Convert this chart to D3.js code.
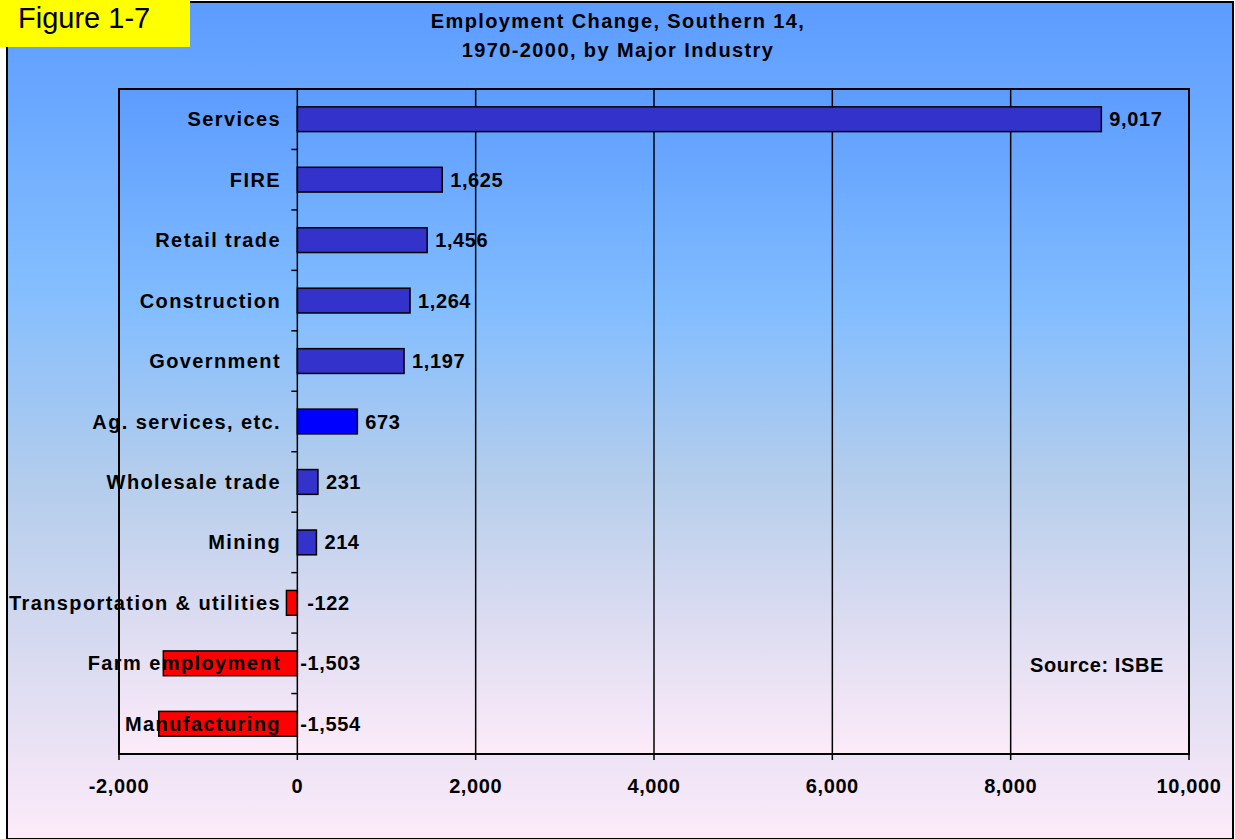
<!DOCTYPE html>
<html>
<head>
<meta charset="utf-8">
<script src="https://cdn.jsdelivr.net/npm/d3@7"></script>
<style>
  html, body { margin: 0; padding: 0; background: #ffffff; }
  svg { display: block; }
  text { font-family: "Liberation Sans", Arial, sans-serif; fill: #000; }
</style>
</head>
<body>
<svg id="chart" width="1235" height="839"></svg>
<script>
// Employment change 1970-2000 (thousands of jobs), by industry
const categories = [
  "Services", "FIRE", "Retail trade", "Construction", "Government",
  "Ag. services, etc.", "Wholesale trade", "Mining",
  "Transportation & utilities", "Farm employment", "Manufacturing"
];
const values = [9017, 1625, 1456, 1264, 1197, 673, 231, 214, -122, -1503, -1554];
const xTicks = [-2000, 0, 2000, 4000, 6000, 8000, 10000];
const titleLines = ["Employment Change, Southern 14,", "1970-2000, by Major Industry"];
const figureLabel = "Figure 1-7";
const sourceNote = "Source: ISBE";

const W = 1235, H = 839;
const frame = { x: 7, y: 2, w: 1226, h: 837 };
const plot = { left: 119, top: 89, right: 1189, bottom: 754 };

const svg = d3.select("#chart");
const defs = svg.append("defs");

function addGradient(id) {
  const g = defs.append("linearGradient").attr("id", id)
    .attr("x1", 0).attr("y1", 0).attr("x2", 0).attr("y2", 1);
  [[0, "#5c9cff"], [0.33, "#82bdff"], [0.58, "#b4cdec"], [0.8, "#dcdcf1"], [1, "#fdebf9"]]
    .forEach(([o, c]) => g.append("stop").attr("offset", o).attr("stop-color", c));
}
addGradient("bgFrame");
addGradient("bgPlot");

// Chart frame
svg.append("rect")
  .attr("x", frame.x).attr("y", frame.y).attr("width", frame.w).attr("height", frame.h)
  .attr("fill", "url(#bgFrame)").attr("stroke", "#000").attr("stroke-width", 2);

// Plot area
svg.append("rect")
  .attr("x", plot.left).attr("y", plot.top)
  .attr("width", plot.right - plot.left).attr("height", plot.bottom - plot.top)
  .attr("fill", "url(#bgPlot)");

const x = d3.scaleLinear().domain([-2000, 10000]).range([plot.left, plot.right]);
const y = d3.scaleBand().domain(categories).range([plot.top, plot.bottom]).padding(0);
const barH = y.bandwidth() * 0.41;

// Vertical gridlines
svg.append("g").selectAll("line")
  .data(xTicks.filter(t => t > -2000 && t < 10000 && t !== 0))
  .join("line")
  .attr("x1", d => x(d)).attr("x2", d => x(d))
  .attr("y1", plot.top).attr("y2", plot.bottom)
  .attr("stroke", "#000").attr("stroke-width", 1.5);

// Bars
const color = (v, c) => v < 0 ? "#ff0000" : (c === "Ag. services, etc." ? "#0000ff" : "#3333cc");
svg.append("g").selectAll("rect")
  .data(categories.map((c, i) => ({ c, v: values[i] })))
  .join("rect")
  .attr("x", d => x(Math.min(0, d.v)))
  .attr("width", d => Math.abs(x(d.v) - x(0)))
  .attr("y", d => y(d.c) + (y.bandwidth() - barH) / 2)
  .attr("height", barH)
  .attr("fill", d => color(d.v, d.c))
  .attr("stroke", "#000").attr("stroke-width", 1.5);

// Plot border
svg.append("rect")
  .attr("x", plot.left).attr("y", plot.top)
  .attr("width", plot.right - plot.left).attr("height", plot.bottom - plot.top)
  .attr("fill", "none").attr("stroke", "#000").attr("stroke-width", 2);

// Category axis at zero with ticks between categories
const zero = x(0);
svg.append("line")
  .attr("x1", zero).attr("x2", zero).attr("y1", plot.top).attr("y2", plot.bottom)
  .attr("stroke", "#000").attr("stroke-width", 1.5);
const boundaries = categories.map(c => y(c)).concat([plot.bottom]);
svg.append("g").selectAll("line").data(boundaries).join("line")
  .attr("x1", zero - 6).attr("x2", zero)
  .attr("y1", d => d).attr("y2", d => d)
  .attr("stroke", "#000").attr("stroke-width", 1.5);

// Value axis ticks and labels
svg.append("g").selectAll("line").data(xTicks).join("line")
  .attr("x1", d => x(d)).attr("x2", d => x(d))
  .attr("y1", plot.bottom).attr("y2", plot.bottom + 6)
  .attr("stroke", "#000").attr("stroke-width", 1.5);
// thousands separator with a plain hyphen for negatives
const fmt = v => d3.format(",")(v).replace("\u2212", "-");
svg.append("g").selectAll("text").data(xTicks).join("text")
  .attr("x", d => x(d)).attr("y", plot.bottom + 39)
  .attr("text-anchor", "middle")
  .style("font-size", "20px").style("font-weight", "bold").style("letter-spacing", "0.6px")
  .text(d => fmt(d));

// Category labels
svg.append("g").selectAll("text").data(categories).join("text")
  .attr("x", 281)
  .attr("y", d => y(d) + y.bandwidth() / 2 + 7)
  .attr("text-anchor", "end")
  .style("font-size", "20px").style("font-weight", "bold").style("letter-spacing", "1.4px")
  .text(d => d);

// Value labels
svg.append("g").selectAll("text")
  .data(categories.map((c, i) => ({ c, v: values[i] })))
  .join("text")
  .attr("x", d => d.v >= 0 ? x(d.v) + 8 : zero + (Math.abs(d.v) < 500 ? 10 : 3))
  .attr("y", d => y(d.c) + y.bandwidth() / 2 + 7)
  .style("font-size", "20px").style("font-weight", "bold").style("letter-spacing", "0.6px")
  .text(d => fmt(d.v));

// Title
svg.append("g").selectAll("text").data(titleLines).join("text")
  .attr("x", 618).attr("y", (d, i) => 28 + i * 29)
  .attr("text-anchor", "middle")
  .style("font-size", "20px").style("font-weight", "bold").style("letter-spacing", "1.4px")
  .text(d => d);

// Source note
svg.append("text")
  .attr("x", 1030).attr("y", 672)
  .style("font-size", "20px").style("font-weight", "bold").style("letter-spacing", "0.6px")
  .text(sourceNote);

// Figure tag
svg.append("rect").attr("x", 0).attr("y", 0).attr("width", 190).attr("height", 47)
  .attr("fill", "#ffff00");
svg.append("text").attr("x", 18).attr("y", 28)
  .style("font-size", "29px")
  .text(figureLabel);
</script>
</body>
</html>
